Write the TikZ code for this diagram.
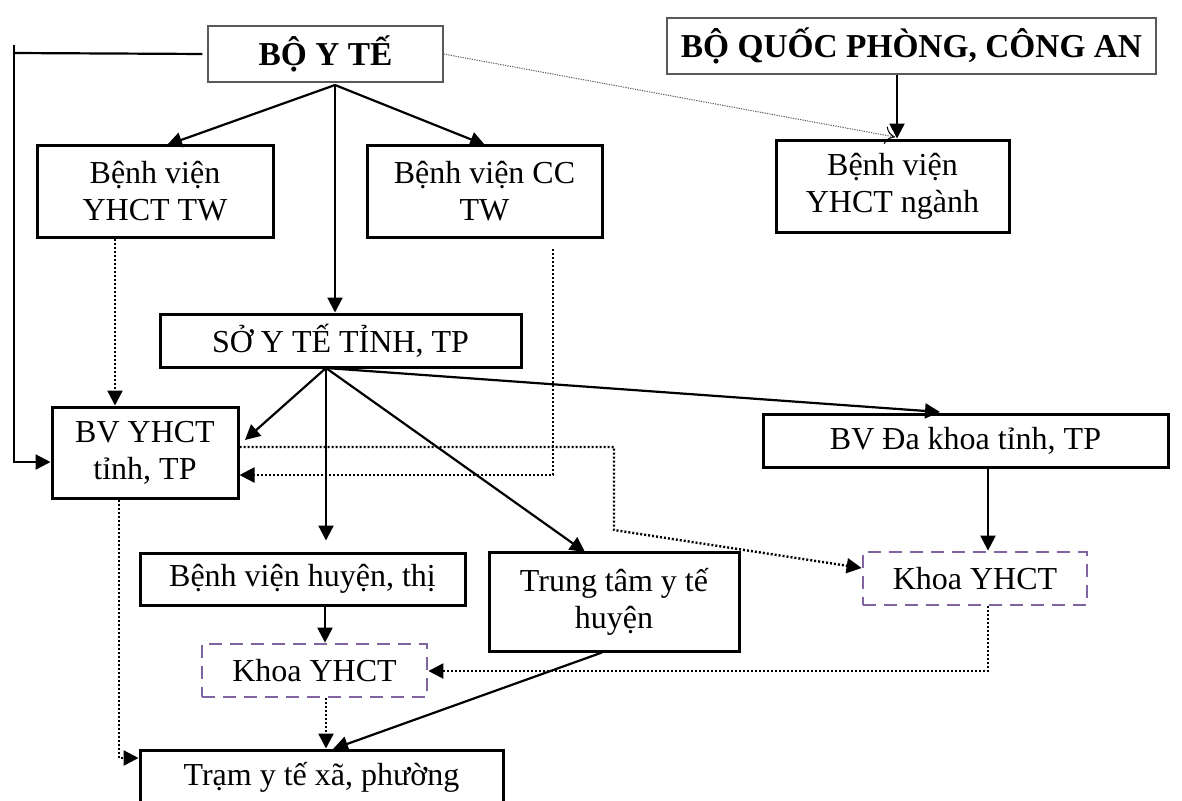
\documentclass[tikz,border=0pt]{standalone}
\usepackage{fontspec}
\setmainfont{Liberation Serif}
\usetikzlibrary{arrows.meta}
\definecolor{khoaviolet}{HTML}{8064A2}
\begin{document}
\begin{tikzpicture}[x=0.5pt, y=-0.5pt, every node/.style={font=\fontsize{16}{18.5}\selectfont},
  box/.style={draw,line width=1.5pt,align=center,inner sep=0pt},
  head/.style={draw=gray!70!black,line width=0.6pt,inner sep=0pt,font=\fontsize{16.7}{20}\selectfont\bfseries},
  khoa/.style={draw=khoaviolet,line width=1.4pt,dash pattern=on 6.5pt off 4pt,inner sep=0pt},
  arr/.style={line width=1.1pt,-{Triangle[length=7.5pt,width=7.5pt]}},
  dotarr/.style={line width=1.2pt,dash pattern=on 1pt off 1pt,-{Triangle[length=7.5pt,width=7.5pt]}}]
\useasboundingbox (0,0) rectangle (1182,800);
\clip (0,0) rectangle (1182,800);
% ministries
\node[head,minimum width=117.5pt,minimum height=28pt] (boyte) at (325.5,54) {BỘ Y TẾ};
\node[head,minimum width=244.5pt,minimum height=28pt] (bqp) at (911.5,46) {BỘ QUỐC PHÒNG, CÔNG AN};
% central hospitals
\node[box,minimum width=118pt,minimum height=46pt] (yhcttw) at (155,191) {Bệnh viện\\YHCT TW};
\node[box,minimum width=117.5pt,minimum height=46pt] (cctw) at (484.5,191) {Bệnh viện CC\\TW};
\node[box,minimum width=116.5pt,minimum height=46pt] (nganh) at (892.5,186) {Bệnh viện\\YHCT ngành};
% province
\node[box,minimum width=180.5pt,minimum height=26.5pt] (soyte) at (340.5,340.5) {SỞ Y TẾ TỈNH, TP};
\node[box,minimum width=93pt,minimum height=45.5pt] (bvtinh) at (145,452.5) {BV YHCT\\tỉnh, TP};
\node[box,minimum width=202.5pt,minimum height=26.5pt] (dakhoa) at (965.5,440.5) {BV Đa khoa tỉnh, TP};
% district
\node[box,minimum width=162.5pt,minimum height=26pt] (bvhuyen) at (302.5,579) {Bệnh viện huyện, thị};
\node[box,minimum width=125pt,minimum height=49.5pt] (ttyt) at (614,601.5) {Trung tâm y tế\\huyện};
\node[khoa,minimum width=112pt,minimum height=26.5pt] (khoaR) at (975,578.5) {Khoa YHCT};
\node[khoa,minimum width=112.5pt,minimum height=26.5pt] (khoaL) at (314.5,670.5) {Khoa YHCT};
\node[box,minimum width=181.5pt,minimum height=27pt] (tram) at (321.5,777) {Trạm y tế xã, phường};
% junctions
\coordinate (bt) at (335,85);
\coordinate (sy) at (326,368);
% from BO Y TE
\draw[arr] (bt) -- (167,145);
\draw[arr] (bt) -- (485,145);
\draw[arr] (bt) -- (soyte.north -| bt);
\draw[line width=1.1pt,shorten <=2.5pt] (boyte.west) -- (14,53);
\draw[arr] (14,45) |- (bvtinh.west |- 0,462);
\draw[gray!70!black,line width=0.5pt,dash pattern=on 0.6pt off 0.6pt,-{To[length=5pt,width=9pt,black]}]
  (boyte.east) -- (895,137);
\draw[arr] (bqp.south -| 897,0) -- (nganh.north -| 897,0);
% dotted links
\draw[dotarr] (yhcttw.south -| 115,0) -- (bvtinh.north -| 115,0);
\draw[dotarr] (553,249) |- (bvtinh.east |- 0,475);
\draw[dotarr] (bvtinh.east |- 0,447) -| (614,530) -- (khoaR.west |- 0,568);
\draw[dotarr] (khoaR.south -| 988,0) |- (khoaL.east |- 0,671);
\draw[dotarr] (khoaL.south -| 326,0) -- (tram.north -| 326,0);
\draw[dotarr] (bvtinh.south -| 119,0) |- (tram.west |- 0,758);
% from SO Y TE
\draw[arr] (sy) -- (245,440);
\draw[arr,shorten >=5.5pt] (sy) -- (bvhuyen.north -| sy);
\draw[arr] (sy) -- (585,552);
\draw[arr,shorten >=3.5pt] (sy) -- (dakhoa.north -| 947,0);
\draw[arr] (dakhoa.south -| 988,0) -- (khoaR.north -| 988,0);
\draw[arr] (bvhuyen.south -| 325,0) -- (khoaL.north -| 325,0);
\draw[arr] (ttyt.south -| 602,0) -- (333,749);
\end{tikzpicture}
\end{document}
